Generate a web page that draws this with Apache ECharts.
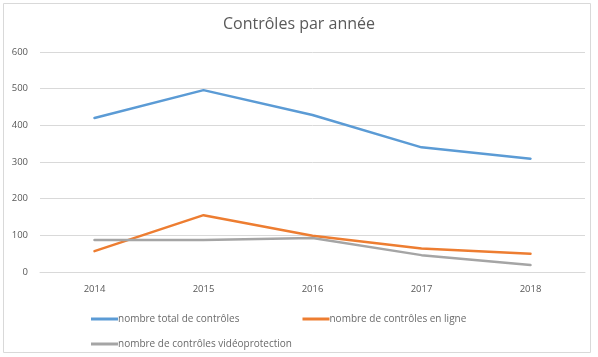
<!DOCTYPE html>
<html>
<head>
<meta charset="utf-8">
<script src="https://cdn.jsdelivr.net/npm/echarts@6/dist/echarts.min.js"></script>
<style>
  html, body { margin: 0; padding: 0; background: #fff; }
  #chart { width: 598px; height: 357px; }
</style>
</head>
<body>
<div id="chart"></div>
<script>
const years = ['2014', '2015', '2016', '2017', '2018']
const totalControles = [420, 496, 428, 340, 309]
const controlesEnLigne = [57, 155, 99, 64, 50]
const controlesVideo = [87, 87, 93, 46, 19]
const yTicks = [0, 100, 200, 300, 400, 500, 600]

const names = [
  'nombre total de contrôles',
  'nombre de contrôles en ligne',
  'nombre de contrôles vidéoprotection'
]
const colors = ['#5B9BD5', '#ED7D31', '#A5A5A5']
const textColor = '#595959'
const font = 'Open Sans, Liberation Sans, sans-serif'

const chart = echarts.init(document.getElementById('chart'))

function lineSeries(name, data, color) {
  return {
    name,
    type: 'line',
    data,
    symbol: 'none',
    smooth: false,
    lineStyle: { width: 2.5, color, cap: 'round' },
    itemStyle: { color }
  }
}

const legendBase = {
  icon: 'rect',
  itemWidth: 27,
  itemHeight: 3,
  itemGap: 63,
  textStyle: { color: '#6a6a6a', fontSize: 10, fontFamily: font, padding: [0, 0, 0, -5] }
}

chart.setOption({
  animation: false,
  graphic: [{
    type: 'rect',
    shape: { x: 3.5, y: 3.5, width: 587, height: 349 },
    style: { fill: 'none', stroke: '#D9D9D9', lineWidth: 1 },
    silent: true
  }],
  title: {
    text: 'Contrôles par année',
    left: 'center',
    top: 11,
    textStyle: { color: textColor, fontSize: 16, fontWeight: 'normal', fontFamily: font }
  },
  grid: { left: 40, right: 13, top: 52, bottom: 85 },
  xAxis: {
    type: 'category',
    data: years,
    boundaryGap: true,
    axisLine: { lineStyle: { color: '#D9D9D9' } },
    axisTick: { show: false },
    axisLabel: { color: textColor, fontSize: 9.5, fontFamily: font, margin: 12 }
  },
  yAxis: {
    type: 'value',
    min: yTicks[0],
    max: yTicks[yTicks.length - 1],
    interval: 100,
    axisLine: { show: false },
    axisTick: { show: false },
    axisLabel: { color: textColor, fontSize: 9.5, fontFamily: font, margin: 12 },
    splitLine: { lineStyle: { color: '#D9D9D9' } }
  },
  legend: [
    Object.assign({}, legendBase, { data: [names[0], names[1]], left: 86, top: 309 }),
    Object.assign({}, legendBase, { data: [names[2]], left: 86, top: 334 })
  ],
  series: [
    lineSeries(names[0], totalControles, colors[0]),
    lineSeries(names[1], controlesEnLigne, colors[1]),
    lineSeries(names[2], controlesVideo, colors[2])
  ]
})
</script>
</body>
</html>
